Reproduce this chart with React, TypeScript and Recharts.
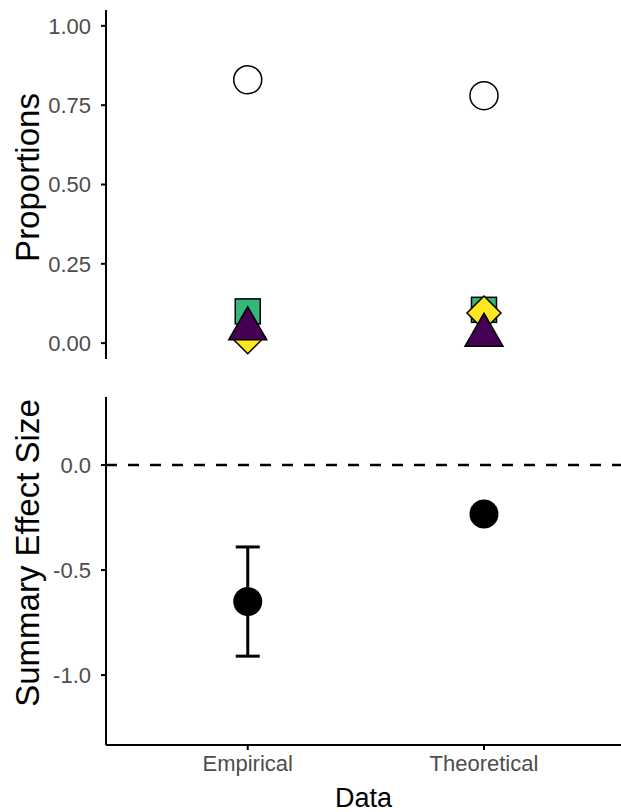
import React from "react";
import { ScatterChart, Scatter, XAxis, YAxis, ReferenceLine, ErrorBar } from "recharts";

const categories = ["Empirical", "Theoretical"];
const categoryPositions = [1, 2];

// top panel: proportions per outcome group
const circleShares = [0.83, 0.78];
const squareShares = [0.1, 0.105];
const diamondShares = [0.02, 0.095];
const triangleShares = [0.045, 0.025];
const proportionTicks = [0, 0.25, 0.5, 0.75, 1];

// bottom panel: summary effect sizes with error
const effectSizes = [-0.65, -0.233];
const effectErrors = [
  [0.26, 0.26],
  [0, 0],
];
const effectTicks = [-1, -0.5, 0];

const FONT = "Arial, 'Liberation Sans', Helvetica, sans-serif";
const TICK_SIZE = 22;
const Y_TITLE_SIZE = 33;
const X_TITLE_SIZE = 27;

const toPoints = (values: number[]) =>
  categoryPositions.map((x, i) => ({ x, y: values[i] }));

const effectData = categoryPositions.map((x, i) => ({
  x,
  y: effectSizes[i],
  err: effectErrors[i],
}));

const CircleShape = (p: any) => (
  <circle cx={p.cx} cy={p.cy} r={14} fill="#ffffff" stroke="#000" strokeWidth={1.5} />
);
const SquareShape = (p: any) => (
  <rect x={p.cx - 12.5} y={p.cy - 12.5} width={25} height={25} fill="#35B779" stroke="#000" strokeWidth={1.5} />
);
const DiamondShape = (p: any) => (
  <polygon
    points={`${p.cx},${p.cy - 17} ${p.cx + 17},${p.cy} ${p.cx},${p.cy + 17} ${p.cx - 17},${p.cy}`}
    fill="#FDE725"
    stroke="#000"
    strokeWidth={1.5}
  />
);
const TriangleShape = (p: any) => (
  <polygon
    points={`${p.cx},${p.cy - 22} ${p.cx + 19},${p.cy + 11} ${p.cx - 19},${p.cy + 11}`}
    fill="#440154"
    stroke="#000"
    strokeWidth={1.5}
  />
);
const DotShape = (p: any) => <circle cx={p.cx} cy={p.cy} r={14.5} fill="#000" />;

// rotated axis title, nudged a little above the panel centre like the original
const yTitle = (text: string, nudge: number) => (props: any) => {
  const vb = props.viewBox;
  const x = vb.x + 27;
  const y = vb.y + vb.height / 2 + nudge;
  return (
    <text
      x={x}
      y={y}
      transform={`rotate(-90 ${x} ${y})`}
      textAnchor="middle"
      dominantBaseline="central"
      fontSize={Y_TITLE_SIZE}
      fontFamily={FONT}
      fill="#000"
    >
      {text}
    </text>
  );
};

const xTitle = (props: any) => {
  const vb = props.viewBox;
  return (
    <text
      x={vb.x + vb.width / 2}
      y={vb.y + 53}
      textAnchor="middle"
      dominantBaseline="central"
      fontSize={X_TITLE_SIZE}
      fontFamily={FONT}
      fill="#000"
    >
      Data
    </text>
  );
};

const tickStyle = { fill: "#4d4d4d", fontSize: TICK_SIZE, fontFamily: FONT };
const axisLine = { stroke: "#000", strokeWidth: 2 };
const xDomain = [0.4, 2.58];

export default function App() {
  return (
    <div style={{ position: "absolute", left: 0, top: 0, width: 621, height: 812, background: "#fff" }}>
      <ScatterChart width={621} height={370} margin={{ top: 10, right: 0, bottom: 11, left: 0 }}>
        <XAxis
          type="number"
          dataKey="x"
          domain={xDomain}
          ticks={categoryPositions}
          tick={false}
          tickLine={false}
          height={0}
          axisLine={axisLine}
        />
        <YAxis
          type="number"
          dataKey="y"
          domain={[-0.05, 1.05]}
          ticks={proportionTicks}
          tickFormatter={(v: number) => v.toFixed(2)}
          width={106}
          tick={tickStyle}
          tickSize={5}
          tickMargin={10}
          tickLine={axisLine}
          axisLine={axisLine}
          label={{ content: yTitle("Proportions", -7) }}
        />
        <Scatter data={toPoints(circleShares)} shape={CircleShape} isAnimationActive={false} />
        <Scatter data={toPoints(squareShares)} shape={SquareShape} isAnimationActive={false} />
        <Scatter data={toPoints(diamondShares)} shape={DiamondShape} isAnimationActive={false} />
        <Scatter data={toPoints(triangleShares)} shape={TriangleShape} isAnimationActive={false} />
      </ScatterChart>
      <ScatterChart width={621} height={442} margin={{ top: 27, right: 0, bottom: 0, left: 0 }}>
        <XAxis
          type="number"
          dataKey="x"
          domain={xDomain}
          ticks={categoryPositions}
          tickFormatter={(v: number) => categories[v - 1]}
          height={67}
          tick={tickStyle}
          tickSize={5}
          tickMargin={5}
          tickLine={axisLine}
          axisLine={axisLine}
          label={{ content: xTitle }}
        />
        <YAxis
          type="number"
          dataKey="y"
          domain={[-1.333, 0.324]}
          ticks={effectTicks}
          tickFormatter={(v: number) => v.toFixed(1)}
          width={106}
          tick={tickStyle}
          tickSize={5}
          tickMargin={10}
          tickLine={axisLine}
          axisLine={axisLine}
          label={{ content: yTitle("Summary Effect Size", -18) }}
        />
        <ReferenceLine y={0} stroke="#000" strokeWidth={2.5} strokeDasharray="11 11" />
        <Scatter data={effectData} shape={DotShape} isAnimationActive={false}>
          <ErrorBar dataKey="err" direction="y" width={12} strokeWidth={3} stroke="#000" />
        </Scatter>
      </ScatterChart>
    </div>
  );
}
